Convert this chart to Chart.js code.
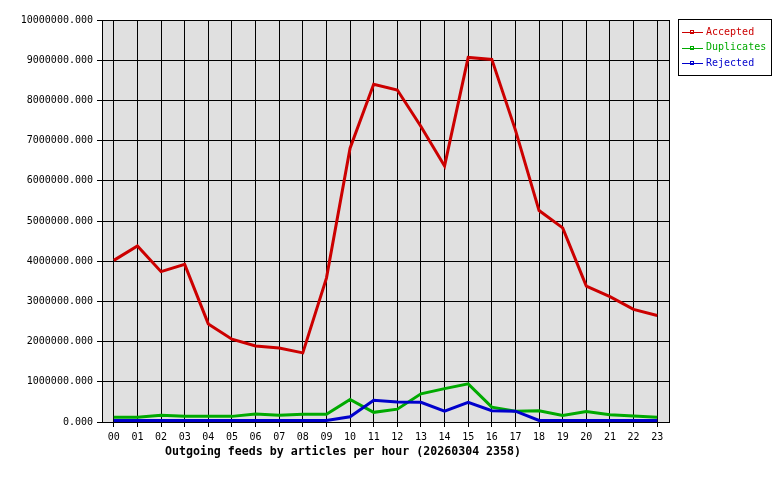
<!DOCTYPE html>
<html>
<head>
<meta charset="utf-8">
<script src="https://cdn.jsdelivr.net/npm/chart.js@4/dist/chart.umd.min.js"></script>
<style>
  html, body { margin: 0; padding: 0; background: #fff; }
  canvas { display: block; }
</style>
</head>
<body>
<canvas id="feedChart" width="780" height="480"></canvas>
<script>
// --- Data ---
const hours = ['00','01','02','03','04','05','06','07','08','09','10','11',
               '12','13','14','15','16','17','18','19','20','21','22','23'];
const accepted = [4020000, 4380000, 3740000, 3920000, 2440000, 2060000, 1890000, 1840000,
                  1720000, 3580000, 6810000, 8400000, 8260000, 7350000, 6370000, 9070000,
                  9020000, 7260000, 5260000, 4830000, 3380000, 3120000, 2800000, 2650000];
const duplicates = [120000, 120000, 170000, 140000, 140000, 140000, 200000, 170000,
                    190000, 190000, 560000, 240000, 320000, 700000, 830000, 950000,
                    370000, 270000, 280000, 160000, 260000, 180000, 150000, 120000];
const rejected = [40000, 40000, 40000, 40000, 40000, 40000, 40000, 40000,
                  40000, 40000, 130000, 540000, 500000, 490000, 270000, 490000,
                  280000, 270000, 40000, 40000, 40000, 40000, 40000, 40000];
const seriesNames = ['Accepted', 'Duplicates', 'Rejected'];
const seriesColors = ['#cc0000', '#00aa00', '#0000cc'];
const chartTitle = 'Outgoing feeds by articles per hour (20260304 2358)';

const MONO = '"DejaVu Sans Mono", "Liberation Mono", monospace';

// plot background + frame
const framePlugin = {
    id: 'frame',
    beforeDraw(chart) {
        const a = chart.chartArea;
        const ctx = chart.ctx;
        ctx.save();
        ctx.fillStyle = '#e0e0e0';
        ctx.fillRect(a.left, a.top, a.right - a.left, a.bottom - a.top);
        ctx.restore();
    },
    beforeDatasetsDraw(chart) {
        const a = chart.chartArea;
        const ctx = chart.ctx;
        ctx.save();
        ctx.strokeStyle = '#000';
        ctx.lineWidth = 1;
        ctx.strokeRect(Math.round(a.left) + 0.5, Math.round(a.top) + 0.5,
                       Math.round(a.right - a.left), Math.round(a.bottom - a.top));
        ctx.restore();
    }
};

// legend box on the right + title under the axis
const legendPlugin = {
    id: 'boxLegend',
    afterDraw(chart) {
        const ctx = chart.ctx;
        ctx.save();
        ctx.strokeStyle = '#000';
        ctx.lineWidth = 1;
        ctx.strokeRect(678.5, 19.5, 93, 56);
        ctx.font = '10px ' + MONO;
        ctx.textBaseline = 'middle';
        ctx.textAlign = 'left';
        chart.data.datasets.forEach((ds, i) => {
            const y = 32 + i * 15.5;
            const yy = Math.round(y) + 0.5;
            ctx.strokeStyle = ds.borderColor;
            ctx.beginPath();
            ctx.moveTo(682, yy);
            ctx.lineTo(703, yy);
            ctx.stroke();
            ctx.strokeRect(690.5, yy - 2, 3, 3);
            ctx.fillStyle = ds.borderColor;
            ctx.fillText(ds.label, 706, y);
        });
        ctx.fillStyle = '#000';
        ctx.font = 'bold 11.6px ' + MONO;
        ctx.textAlign = 'center';
        ctx.fillText(chartTitle, 343, 452);
        ctx.restore();
    }
};

const values = [accepted, duplicates, rejected];
const datasets = seriesNames.map((name, i) => ({
    label: name,
    data: values[i],
    borderColor: seriesColors[i],
    backgroundColor: seriesColors[i],
    borderWidth: 3,
    pointRadius: 0,
    tension: 0,
    fill: false,
    borderJoinStyle: 'miter',
    order: 2 - i
}));

new Chart(document.getElementById('feedChart'), {
    type: 'line',
    data: { labels: hours, datasets: datasets },
    options: {
        responsive: false,
        animation: false,
        devicePixelRatio: 1,
        layout: { padding: { top: 20, right: 111, left: 0, bottom: 0 } },
        plugins: {
            legend: { display: false },
            tooltip: { enabled: false }
        },
        scales: {
            x: {
                offset: true,
                grid: { offset: false, color: '#000', lineWidth: 1, tickLength: 5, tickColor: '#000' },
                border: { color: '#000' },
                ticks: {
                    color: '#000',
                    font: { family: MONO, size: 10 },
                    maxRotation: 0,
                    autoSkip: false,
                    padding: 4
                },
                afterFit(scale) { scale.height = 58; }
            },
            y: {
                min: 0,
                max: 10000000,
                grid: { color: '#000', lineWidth: 1, tickLength: 5, tickColor: '#000' },
                border: { color: '#000' },
                ticks: {
                    stepSize: 1000000,
                    color: '#000',
                    font: { family: MONO, size: 10 },
                    padding: 4,
                    callback: v => Number(v).toFixed(3)
                },
                afterFit(scale) { scale.width = 102; }
            }
        }
    },
    plugins: [framePlugin, legendPlugin]
});
</script>
</body>
</html>
